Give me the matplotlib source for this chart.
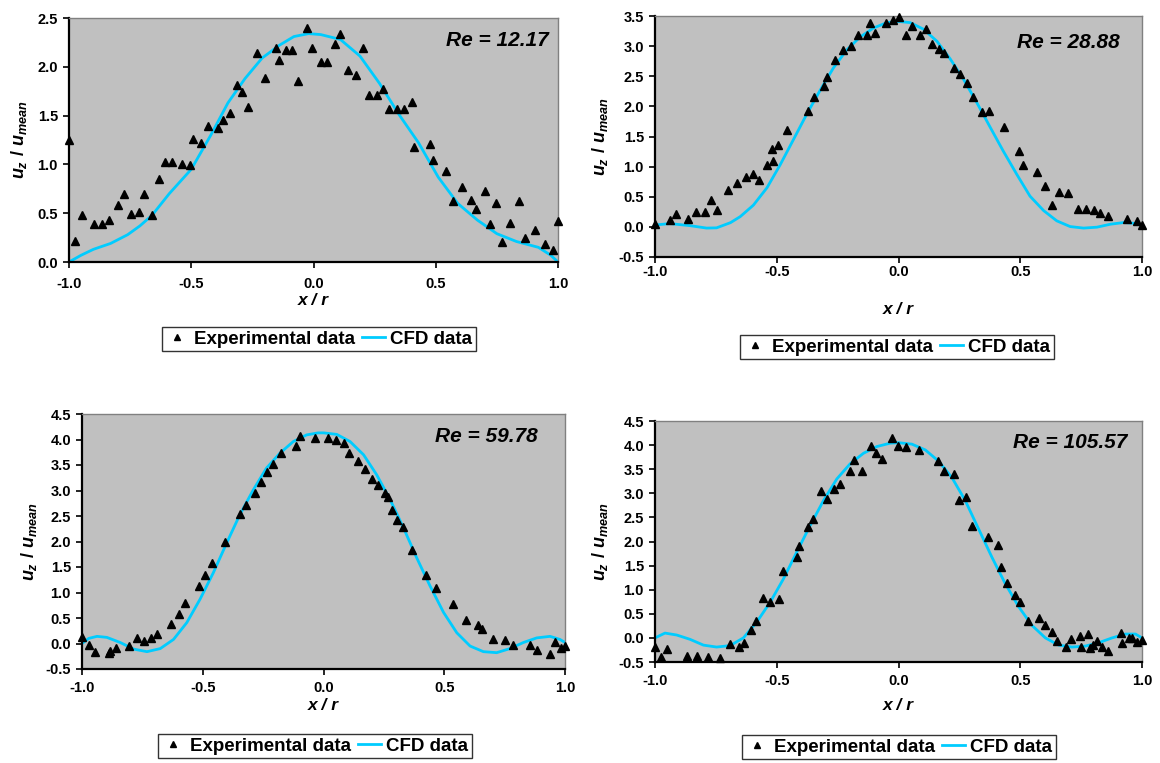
import numpy as np
import matplotlib
matplotlib.use("Agg")
import matplotlib.pyplot as plt
from matplotlib.ticker import FormatStrFormatter, MultipleLocator
from matplotlib.lines import Line2D

plt.rcParams['font.family'] = ['Liberation Sans', 'DejaVu Sans']
plt.rcParams['font.weight'] = 'bold'
plt.rcParams['mathtext.fontset'] = 'custom'
plt.rcParams['mathtext.rm'] = 'Liberation Sans:bold'
plt.rcParams['mathtext.it'] = 'Liberation Sans:bold:italic'
plt.rcParams['axes.unicode_minus'] = False

# Re = 12.17
exp1_x = [-1.0, -0.975, -0.946, -0.898, -0.866, -0.835, -0.80, -0.774, -0.748, -0.712,
          -0.693, -0.662, -0.633, -0.609, -0.577, -0.539, -0.505, -0.493, -0.461, -0.433,
          -0.391, -0.370, -0.340, -0.313, -0.294, -0.269, -0.23, -0.198, -0.155, -0.141,
          -0.111, -0.089, -0.065, -0.027, -0.005, 0.031, 0.054, 0.088, 0.108, 0.140,
          0.175, 0.202, 0.227, 0.261, 0.286, 0.310, 0.342, 0.371, 0.403, 0.412,
          0.478, 0.487, 0.541, 0.572, 0.609, 0.643, 0.666, 0.701, 0.721, 0.748,
          0.770, 0.802, 0.842, 0.866, 0.905, 0.947, 0.978, 0.999]
exp1_y = [1.25, 0.22, 0.48, 0.39, 0.39, 0.43, 0.58, 0.70, 0.49, 0.51,
          0.70, 0.48, 0.85, 1.02, 1.02, 1.00, 0.99, 1.26, 1.22, 1.39,
          1.37, 1.45, 1.53, 1.81, 1.74, 1.59, 2.14, 1.89, 2.19, 2.07,
          2.17, 2.17, 1.85, 2.40, 2.19, 2.05, 2.05, 2.23, 2.34, 1.97,
          1.92, 2.19, 1.71, 1.71, 1.77, 1.57, 1.57, 1.57, 1.64, 1.18,
          1.21, 1.05, 0.93, 0.63, 0.77, 0.64, 0.54, 0.73, 0.39, 0.60,
          0.20, 0.40, 0.63, 0.25, 0.33, 0.18, 0.12, 0.42]
cfd1_x = [-1.0, -0.95, -0.9, -0.83, -0.76, -0.71, -0.66, -0.59, -0.5, -0.42, -0.35, -0.28,
          -0.21, -0.14, -0.08, -0.02, 0.03, 0.11, 0.19, 0.27, 0.35, 0.43, 0.51, 0.59,
          0.67, 0.75, 0.83, 0.92, 0.97, 1.0]
cfd1_y = [0.0, 0.07, 0.13, 0.19, 0.28, 0.37, 0.48, 0.70, 0.95, 1.30, 1.63, 1.88,
          2.09, 2.22, 2.31, 2.34, 2.33, 2.28, 2.11, 1.83, 1.51, 1.22, 0.87, 0.60,
          0.43, 0.29, 0.21, 0.15, 0.07, 0.0]

# Re = 28.88
exp2_x = [-1.0, -0.938, -0.914, -0.866, -0.833, -0.796, -0.770, -0.744, -0.699, -0.662,
          -0.626, -0.596, -0.573, -0.541, -0.519, -0.516, -0.495, -0.459, -0.373, -0.345,
          -0.308, -0.295, -0.259, -0.229, -0.196, -0.168, -0.130, -0.119, -0.097, -0.052,
          -0.021, 0.004, 0.032, 0.055, 0.089, 0.111, 0.138, 0.166, 0.188, 0.226,
          0.251, 0.281, 0.307, 0.342, 0.373, 0.433, 0.493, 0.511, 0.570, 0.603,
          0.632, 0.659, 0.695, 0.737, 0.770, 0.803, 0.829, 0.860, 0.938, 0.979, 1.0]
exp2_y = [0.05, 0.12, 0.22, 0.13, 0.25, 0.25, 0.44, 0.28, 0.62, 0.72,
          0.83, 0.88, 0.77, 1.02, 1.29, 1.10, 1.36, 1.60, 1.93, 2.15,
          2.34, 2.48, 2.77, 2.94, 3.01, 3.18, 3.18, 3.39, 3.21, 3.38,
          3.43, 3.49, 3.19, 3.33, 3.19, 3.29, 3.03, 2.96, 2.89, 2.63,
          2.53, 2.38, 2.16, 1.91, 1.92, 1.65, 1.26, 1.02, 0.91, 0.68,
          0.36, 0.58, 0.57, 0.29, 0.30, 0.28, 0.23, 0.18, 0.13, 0.10, 0.03]
cfd2_x = [-1.0, -0.94, -0.856, -0.788, -0.747, -0.69, -0.65, -0.596, -0.54, -0.486,
          -0.43, -0.377, -0.32, -0.267, -0.212, -0.158, -0.103, -0.048, 0.0, 0.048,
          0.103, 0.158, 0.212, 0.267, 0.322, 0.377, 0.43, 0.486, 0.54, 0.596,
          0.65, 0.705, 0.76, 0.815, 0.87, 0.925, 0.966, 1.0]
cfd2_y = [0.03, 0.055, 0.02, -0.02, -0.016, 0.07, 0.17, 0.36, 0.65, 1.03,
          1.46, 1.87, 2.28, 2.64, 2.94, 3.15, 3.30, 3.39, 3.41, 3.39,
          3.28, 3.08, 2.79, 2.45, 2.06, 1.65, 1.26, 0.87, 0.51, 0.27,
          0.10, 0.005, -0.02, -0.005, 0.044, 0.072, 0.06, 0.02]

# Re = 59.78
exp3_x = [-1.0, -0.970, -0.946, -0.890, -0.886, -0.858, -0.804, -0.773, -0.744, -0.713,
          -0.690, -0.632, -0.599, -0.573, -0.517, -0.489, -0.460, -0.406, -0.344, -0.321,
          -0.282, -0.259, -0.233, -0.208, -0.174, -0.114, -0.098, -0.034, 0.017, 0.052,
          0.086, 0.106, 0.142, 0.170, 0.200, 0.225, 0.255, 0.266, 0.284, 0.303,
          0.331, 0.368, 0.423, 0.466, 0.538, 0.590, 0.641, 0.658, 0.702, 0.752,
          0.786, 0.855, 0.883, 0.938, 0.960, 0.982, 1.0]
exp3_y = [0.12, -0.03, -0.16, -0.19, -0.14, -0.08, -0.05, 0.10, 0.04, 0.10,
          0.18, 0.38, 0.57, 0.80, 1.13, 1.34, 1.57, 1.99, 2.53, 2.71,
          2.95, 3.16, 3.36, 3.52, 3.74, 3.87, 4.07, 4.03, 4.02, 4.00,
          3.94, 3.73, 3.58, 3.42, 3.22, 3.10, 2.95, 2.88, 2.62, 2.42,
          2.28, 1.83, 1.35, 1.08, 0.77, 0.46, 0.36, 0.28, 0.08, 0.07,
          -0.03, -0.03, -0.13, -0.21, 0.02, -0.08, -0.05]
cfd3_x = [-1.0, -0.972, -0.938, -0.897, -0.842, -0.786, -0.731, -0.676, -0.621, -0.566,
          -0.511, -0.456, -0.401, -0.346, -0.291, -0.236, -0.181, -0.125, -0.07, -0.022,
          0.0, 0.055, 0.11, 0.166, 0.22, 0.276, 0.331, 0.386, 0.441, 0.497,
          0.552, 0.607, 0.662, 0.717, 0.772, 0.828, 0.883, 0.938, 0.979, 1.0]
cfd3_y = [0.0, 0.10, 0.14, 0.12, 0.02, -0.11, -0.16, -0.10, 0.08, 0.41,
          0.87, 1.39, 1.97, 2.53, 3.01, 3.44, 3.73, 3.96, 4.09, 4.13,
          4.13, 4.10, 3.96, 3.70, 3.31, 2.82, 2.27, 1.68, 1.13, 0.61,
          0.21, -0.05, -0.16, -0.18, -0.10, 0.02, 0.11, 0.14, 0.08, 0.02]

# Re = 105.57
exp4_x = [-1.0, -0.977, -0.949, -0.870, -0.826, -0.781, -0.733, -0.692, -0.655, -0.633,
          -0.605, -0.586, -0.555, -0.527, -0.489, -0.473, -0.418, -0.410, -0.370, -0.352,
          -0.318, -0.295, -0.266, -0.242, -0.199, -0.181, -0.148, -0.112, -0.092, -0.068,
          -0.026, -0.004, 0.032, 0.086, 0.164, 0.185, 0.226, 0.249, 0.279, 0.301,
          0.367, 0.407, 0.419, 0.445, 0.479, 0.497, 0.530, 0.577, 0.600, 0.629,
          0.651, 0.688, 0.707, 0.747, 0.749, 0.777, 0.785, 0.799, 0.816, 0.834,
          0.860, 0.914, 0.919, 0.947, 0.958, 0.979, 1.0]
exp4_y = [-0.19, -0.40, -0.24, -0.37, -0.37, -0.39, -0.41, -0.12, -0.19, -0.11,
          0.17, 0.35, 0.82, 0.75, 0.81, 1.38, 1.67, 1.91, 2.30, 2.46,
          3.04, 2.88, 3.09, 3.20, 3.47, 3.69, 3.46, 3.98, 3.83, 3.71,
          4.14, 3.98, 3.97, 3.90, 3.67, 3.47, 3.40, 2.86, 2.92, 2.33,
          2.10, 1.92, 1.47, 1.14, 0.88, 0.75, 0.35, 0.41, 0.27, 0.13,
          -0.07, -0.18, -0.03, 0.04, -0.19, 0.08, -0.21, -0.15, -0.06, -0.19,
          -0.28, 0.10, -0.10, 0.00, 0.00, -0.09, -0.04]
cfd4_x = [-1.0, -0.959, -0.911, -0.856, -0.801, -0.747, -0.692, -0.637, -0.582, -0.527,
          -0.473, -0.418, -0.363, -0.308, -0.253, -0.199, -0.144, -0.089, -0.034, 0.0,
          0.055, 0.11, 0.164, 0.219, 0.274, 0.329, 0.384, 0.438, 0.493, 0.548,
          0.603, 0.658, 0.712, 0.767, 0.822, 0.877, 0.932, 0.973, 1.0]
cfd4_y = [0.0, 0.10, 0.06, -0.03, -0.15, -0.19, -0.16, 0.0, 0.33, 0.74,
          1.22, 1.78, 2.33, 2.85, 3.30, 3.61, 3.83, 3.97, 4.04, 4.05,
          4.02, 3.90, 3.67, 3.33, 2.85, 2.26, 1.67, 1.13, 0.65, 0.26,
          0.0, -0.15, -0.19, -0.17, -0.10, 0.0, 0.08, 0.08, 0.0]

re_labels = ["Re = 12.17", "Re = 28.88", "Re = 59.78", "Re = 105.57"]
y_limits = [(0, 2.5), (-0.5, 3.5), (-0.5, 4.5), (-0.5, 4.5)]

W, H = 1160, 763
# panel boxes in pixels: left, top, right, bottom
boxes = [(69, 18, 558, 262), (655, 16, 1142, 257), (82, 414, 565, 669), (655, 421, 1142, 662)]
xtick_pad = [7, 2, 4.5, 4.5]
xlabel_y = [300, 309, 706, 706]
ylabel_x = [19, 600, 29, 600]
legend_xy = [(319, 339), (897, 347), (315, 746), (899, 747)]
re_xy = [(549, 40), (1120, 42), (538, 437), (1127, 443)]

panels = [(exp1_x, exp1_y, cfd1_x, cfd1_y), (exp2_x, exp2_y, cfd2_x, cfd2_y),
          (exp3_x, exp3_y, cfd3_x, cfd3_y), (exp4_x, exp4_y, cfd4_x, cfd4_y)]

fig = plt.figure(figsize=(W / 100, H / 100), dpi=100)
cfd_color = "#00CCFF"

for i, (ex, ey, cx, cy) in enumerate(panels):
    l, t, r, b = boxes[i]
    ax = fig.add_axes([l / W, 1 - b / H, (r - l) / W, (b - t) / H])
    ax.set_facecolor("#C0C0C0")
    ax.plot(cx, cy, color=cfd_color, lw=2.0, zorder=2)
    ax.plot(ex, ey, linestyle="none", marker="^", color="black", markersize=5.5,
            clip_on=False, zorder=3)
    ax.set_xlim(-1, 1)
    ax.set_ylim(*y_limits[i])
    ax.xaxis.set_major_locator(MultipleLocator(0.5))
    ax.yaxis.set_major_locator(MultipleLocator(0.5))
    ax.xaxis.set_major_formatter(FormatStrFormatter("%.1f"))
    ax.yaxis.set_major_formatter(FormatStrFormatter("%.1f"))
    ax.tick_params(direction="out", length=4, width=1.2, labelsize=10.5)
    ax.tick_params(axis="x", pad=xtick_pad[i])
    ax.tick_params(axis="y", pad=4)
    for side in ["left", "bottom"]:
        ax.spines[side].set_linewidth(1.6)
        ax.spines[side].set_color("black")
    for side in ["top", "right"]:
        ax.spines[side].set_linewidth(1.0)
        ax.spines[side].set_color("#808080")
    ax.text(re_xy[i][0] / W, 1 - re_xy[i][1] / H, re_labels[i], transform=fig.transFigure,
            ha="right", va="center", fontsize=15, fontstyle="italic", fontweight="bold")
    fig.text((l + r) / 2 / W, 1 - xlabel_y[i] / H, "x / r", ha="center", va="center",
             fontsize=12.5, fontstyle="italic", fontweight="bold")
    fig.text(ylabel_x[i] / W, 1 - (t + b) / 2 / H, r"$u_z\ /\ u_{mean}$", ha="center",
             va="center", rotation=90, fontsize=13)
    handles = [Line2D([], [], linestyle="none", marker="^", color="black", markersize=4),
               Line2D([], [], color=cfd_color, lw=2.0)]
    leg = fig.legend(handles, ["Experimental data", "CFD data"], ncol=2,
                     loc="center", bbox_to_anchor=(legend_xy[i][0] / W, 1 - legend_xy[i][1] / H),
                     frameon=True, fancybox=False, edgecolor="black", fontsize=13.5,
                     handlelength=1.2, handletextpad=0.3, columnspacing=0.4,
                     borderpad=0.2, borderaxespad=0)
    leg.get_frame().set_linewidth(1.0)

fig.savefig("out.png", dpi=100)
